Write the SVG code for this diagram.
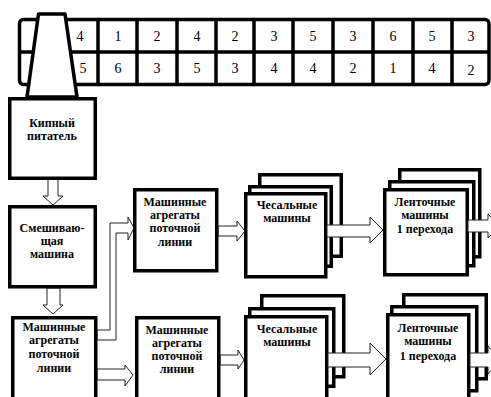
<svg xmlns="http://www.w3.org/2000/svg" width="491" height="397" viewBox="0 0 491 397">
<style>
.bx{fill:#fff;stroke:#000;stroke-width:3.5}
.tl{fill:none;stroke:#000;stroke-width:3.5}
.ar{fill:#fff;stroke:#222;stroke-width:1}
.lb{font-weight:bold;font-size:12px;text-anchor:middle;fill:#000}
.nm{font-size:14px;text-anchor:middle;fill:#000}
</style>
<rect width="491" height="397" fill="#fff"/>
<g font-family="Liberation Serif, DejaVu Serif, serif">
<g id="table">
<rect class="tl" x="19.5" y="19.5" width="469.5" height="65" rx="4"/>
<path class="tl" d="M19 52H489M98 19V85M137 19V85M177 19V85M216 19V85M254 19V85M293 19V85M333 19V85M373 19V85M413 19V85M452 19V85"/>
<g class="nm">
<text x="80" y="41">4</text><text x="118" y="41">1</text><text x="157" y="41">2</text><text x="197" y="41">4</text><text x="235" y="41">2</text><text x="274" y="41">3</text><text x="313" y="41">5</text><text x="353" y="41">3</text><text x="393" y="41">6</text><text x="432" y="41">5</text><text x="471" y="41">3</text>
<text x="83" y="73">5</text><text x="118" y="73">6</text><text x="157" y="73">3</text><text x="197" y="73">5</text><text x="235" y="73">3</text><text x="274" y="73">4</text><text x="313" y="73">4</text><text x="353" y="73">2</text><text x="393" y="73">1</text><text x="432" y="73">4</text><text x="471" y="75">2</text>
</g>
</g>
<g id="hopper">
<path class="bx" stroke-linejoin="round" d="M27 97L38.5 14H65L77 97Z"/>
</g>
<g id="connectors">
<path class="ar" d="M48 179V196H43L53 205L63 196H58V179Z"/>
<path class="ar" d="M47 288V305H43L53 314L63 305H60V288Z"/>
<path class="ar" d="M97 330H110V223H128V217L134 228L128 240V233H116V340H97Z"/>
<path class="ar" d="M97 369H125V365L133 375L125 386V380H97Z"/>
<path class="ar" d="M218 226H237V221L245 231L237 241V236H218Z"/>
<path class="ar" d="M220 355H238V350L244 360L238 369V365H220Z"/>
</g>
<g id="box-kipny">
<rect class="bx" x="9.75" y="98.75" width="85.5" height="79.5"/>
<text class="lb" x="52" y="127">Кипный</text>
<text class="lb" x="52" y="140">питатель</text>
</g>
<g id="box-smesh">
<rect class="bx" x="9.75" y="206.75" width="85.5" height="80"/>
<text class="lb" x="52" y="232">Смешиваю-</text>
<text class="lb" x="52" y="245">щая</text>
<text class="lb" x="52" y="258">машина</text>
</g>
<g id="box-agr1">
<rect class="bx" x="12.75" y="317.75" width="83" height="90"/>
<text class="lb" x="54" y="331">Машинные</text>
<text class="lb" x="54" y="344">агрегаты</text>
<text class="lb" x="54" y="358">поточной</text>
<text class="lb" x="54" y="372">линии</text>
</g>
<g id="box-agr2">
<rect class="bx" x="134.75" y="189.75" width="82" height="81"/>
<text class="lb" x="175" y="206">Машинные</text>
<text class="lb" x="175" y="219">агрегаты</text>
<text class="lb" x="175" y="232">поточной</text>
<text class="lb" x="175" y="246">линии</text>
</g>
<g id="box-agr3">
<rect class="bx" x="136.75" y="317.75" width="82" height="90"/>
<text class="lb" x="177" y="334">Машинные</text>
<text class="lb" x="177" y="347">агрегаты</text>
<text class="lb" x="177" y="360">поточной</text>
<text class="lb" x="177" y="373">линии</text>
</g>
<g id="stack-ches1">
<rect class="bx" x="259.75" y="174.75" width="81.5" height="81.5"/>
<rect class="bx" x="249.75" y="186.75" width="81.5" height="79.5"/>
<rect class="bx" x="245.75" y="193.75" width="80" height="83"/>
<text class="lb" x="287" y="209">Чесальные</text>
<text class="lb" x="287" y="222">машины</text>
</g>
<g id="stack-lent1">
<rect class="bx" x="399.75" y="169.75" width="80" height="87"/>
<rect class="bx" x="389.75" y="181.75" width="84" height="84"/>
<rect class="bx" x="384.75" y="189.75" width="82.5" height="85"/>
<text class="lb" x="425" y="206">Ленточные</text>
<text class="lb" x="425" y="219">машины</text>
<text class="lb" x="425" y="233">1 перехода</text>
</g>
<g id="stack-ches2">
<rect class="bx" x="261.75" y="295.75" width="82" height="81"/>
<rect class="bx" x="249.75" y="308.75" width="84" height="77.5"/>
<rect class="bx" x="245.75" y="316.75" width="81" height="90"/>
<text class="lb" x="287" y="333">Чесальные</text>
<text class="lb" x="287" y="346">машины</text>
</g>
<g id="stack-lent2">
<rect class="bx" x="403.75" y="294.75" width="82.5" height="84"/>
<rect class="bx" x="391.75" y="306.75" width="85" height="84"/>
<rect class="bx" x="387.75" y="314.75" width="81" height="90"/>
<text class="lb" x="428" y="332">Ленточные</text>
<text class="lb" x="428" y="345">машины</text>
<text class="lb" x="428" y="360">1 перехода</text>
</g>
<g id="connectors-2">
<path class="ar" d="M327 225H370V217L383 230L370 243V237H327Z"/>
<path class="ar" d="M468 220H488V214L500 226L488 238V232H468Z"/>
<path class="ar" d="M328 353H370V343L386 359L370 375V367H328Z"/>
<path class="ar" d="M470 353H488V346L500 360L488 374V367H470Z"/>
</g>
</g>
</svg>
